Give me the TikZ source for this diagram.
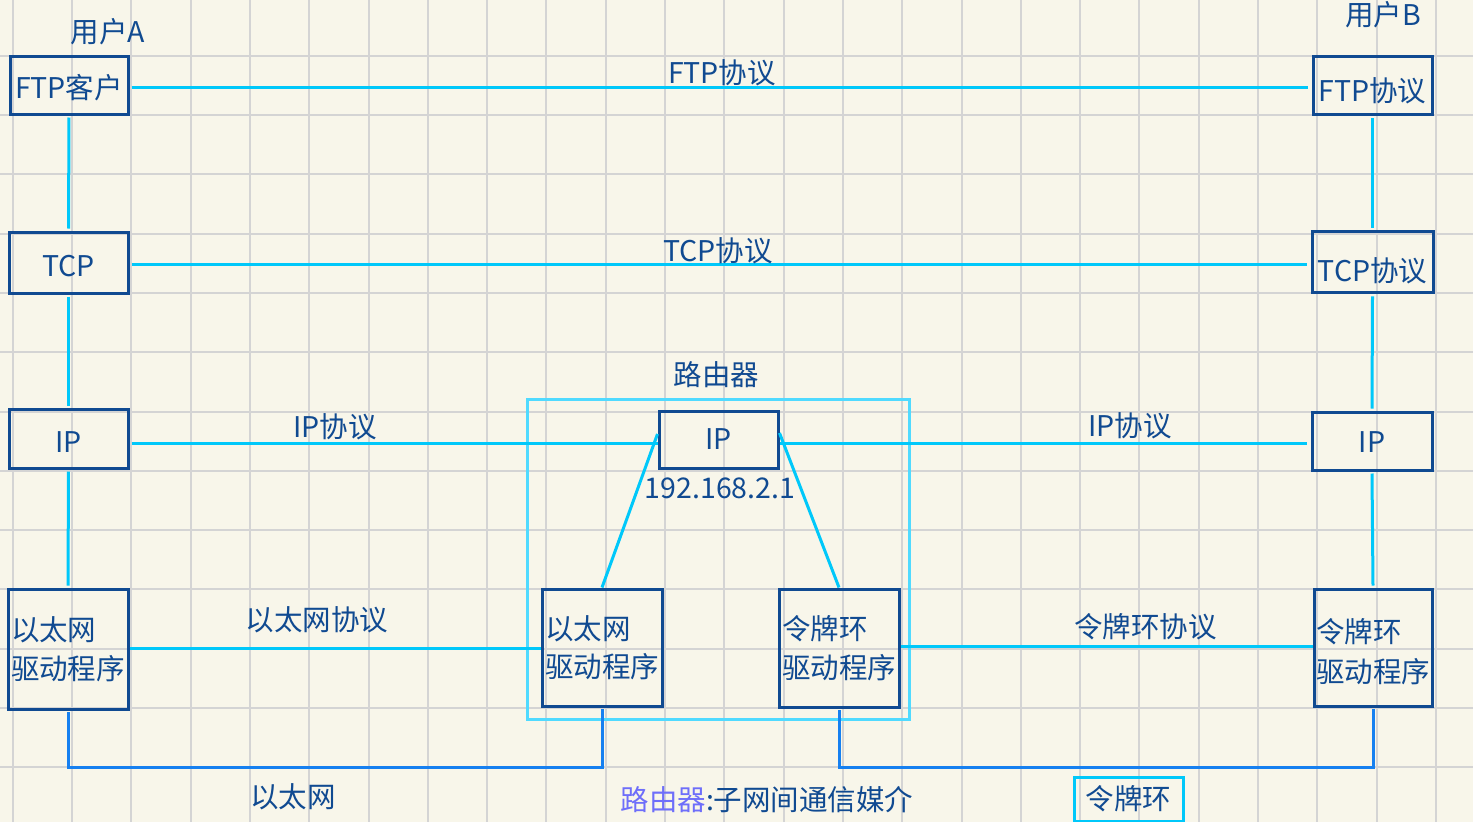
\documentclass[tikz,border=0pt]{standalone}
\usepackage{fontspec}
\setmainfont{Noto Sans CJK SC}
\definecolor{bg}{RGB}{248,246,234}
\definecolor{gridc}{RGB}{212,212,212}
\definecolor{dkblue}{RGB}{16,74,145}
\definecolor{cyanl}{RGB}{0,200,250}
\definecolor{routerc}{RGB}{80,218,255}
\definecolor{linkc}{RGB}{22,128,240}
\definecolor{purp}{RGB}{110,110,250}
\newcommand{\dn}[2]{\raisebox{-#1pt}[\height][\depth]{#2}}
\begin{document}
\begin{tikzpicture}[x=1pt,y=-1pt,
  font=\fontsize{28.5}{38.5}\selectfont,
  box/.style={draw=dkblue, line width=3pt, text=dkblue, inner sep=0pt, align=left},
  txt/.style={text=dkblue, inner sep=0pt},
  proto/.style={draw=cyanl, line width=3pt},
  link/.style={draw=linkc, line width=3pt},
]
\fill[bg] (0,0) rectangle (1473,822);
\useasboundingbox (0,0) rectangle (1473,822);
% grid
\foreach \i in {0,...,24} \draw[gridc, line width=2pt] ({12.7+59.3*\i},0) -- ({12.7+59.3*\i},822);
\foreach \j in {1,...,13} \draw[gridc, line width=2pt] (0,{-3.6+59.3*\j}) -- (1473,{-3.6+59.3*\j});

% router frame
\node[draw=routerc, line width=3pt, minimum width=382pt, minimum height=320pt, inner sep=0pt] (router) at (718.6,559.2) {};

% user A stack
\node[box, minimum width=118pt, minimum height=58pt] (ftpA) at (69,85) {\dn{3}{FTP客户}};
\node[box, minimum width=119pt, minimum height=61pt] (tcpA) at (68.5,262.5) {\dn{4}{TCP}};
\node[box, minimum width=119pt, minimum height=59pt] (ipA) at (68.5,438.5) {\dn{4}{IP}};
\node[box, minimum width=120pt, minimum height=120pt] (ethA) at (68,649) {以太网\\驱动程序};

% user B stack
\node[box, minimum width=119pt, minimum height=58pt] (ftpB) at (1372.5,85.5) {\dn{5}{FTP协议}};
\node[box, minimum width=121pt, minimum height=61pt] (tcpB) at (1372.5,262.3) {\dn{8}{TCP协议}};
\node[box, minimum width=120pt, minimum height=58pt] (ipB) at (1372,441) {\dn{1}{IP}};
\node[box, minimum width=118pt, minimum height=117pt,
  label={[txt, align=left, yshift=-4pt, font=\fontsize{28.5}{40}\selectfont]center:令牌环\\驱动程序}] (tokB) at (1373,647.5) {};

% router
\node[box, minimum width=119pt, minimum height=57pt] (rIP) at (718.5,439.5) {IP};
\node[box, minimum width=120pt, minimum height=117pt] (rEth) at (602,647.5) {以太网\\驱动程序};
\node[box, minimum width=120pt, minimum height=118pt] (rTok) at (839,648) {令牌环\\驱动程序};

% vertical stack links
\draw[proto] ([yshift=-2pt]ftpA.south) -- ([yshift=2pt]tcpA.north);
\draw[proto] ([yshift=-2pt]tcpA.south) -- ([yshift=2pt]ipA.north);
\draw[proto] ([yshift=-2pt]ipA.south) -- ([yshift=2pt]ethA.north);
\draw[proto] ([yshift=-2pt]ftpB.south) -- ([yshift=2pt]tcpB.north);
\draw[proto] ([yshift=-2pt]tcpB.south) -- ([yshift=2pt]ipB.north);
\draw[proto] ([yshift=-2pt]ipB.south) -- ([yshift=2pt]tokB.north);

% peer protocol lines
\draw[proto] ([xshift=2pt,yshift=-2.5pt]ftpA.east) -- ([xshift=-4pt,yshift=-2.5pt]ftpA.east -| ftpB.west);
\draw[proto] ([xshift=2pt,yshift=-2pt]tcpA.east) -- ([xshift=-4pt,yshift=-2pt]tcpA.east -| tcpB.west);
\draw[proto] ([xshift=2pt,yshift=-4.5pt]ipA.east) -- ([yshift=-4.5pt]ipA.east -| rIP.west);
\draw[proto] ([yshift=-3.5pt]rIP.east) -- ([xshift=-4pt,yshift=-3.5pt]rIP.east -| ipB.west);
\draw[proto] ([yshift=0.7pt]ethA.east) -- ([yshift=0.7pt]ethA.east -| rEth.west);
\draw[proto] ([yshift=1.5pt]rTok.east) -- ([yshift=1.5pt]rTok.east -| tokB.west);

% router internal
\draw[proto] ([yshift=5.5pt]rIP.west) -- (rEth.north);
\draw[proto] ([yshift=6.5pt]rIP.east) -- (rTok.north);

% physical links
\draw[link] ([yshift=-1.5pt]ethA.south) -- ++(0,55) -| ([yshift=-1.5pt]rEth.south);
\draw[link] ([yshift=-1.5pt]rTok.south) -- ++(0,57) -| ([yshift=-1.5pt]tokB.south);

% labels
\node[txt] (uA) at (108,31.7) {用户A};
\node[txt] (uB) at (1383,15) {用户B};
\node[txt] (lftp) at (722,73) {FTP协议};
\node[txt] (ltcp) at (718,251) {TCP协议};
\node[txt] (lipA) at (335,427) {IP协议};
\node[txt] (lipB) at (1130,426) {IP协议};
\node[txt] (leth) at (317,620) {以太网协议};
\node[txt] (ltok) at (1145.5,627) {令牌环协议};
\node[txt] (lrouter) at (716.7,375) {路由器};
\node[txt] (lipaddr) at (720,488) {192.168.2.1};
\node[txt] (lethnet) at (293,797) {以太网};
\node[txt] (lmedia) at (767,800) {\textcolor{purp}{路由器}:子网间通信媒介};
\node[draw=cyanl, line width=3pt, text=dkblue, minimum width=109pt, minimum height=44pt, inner sep=0pt] (ltokring) at (1128.5,799) {令牌环};
\end{tikzpicture}
\end{document}
